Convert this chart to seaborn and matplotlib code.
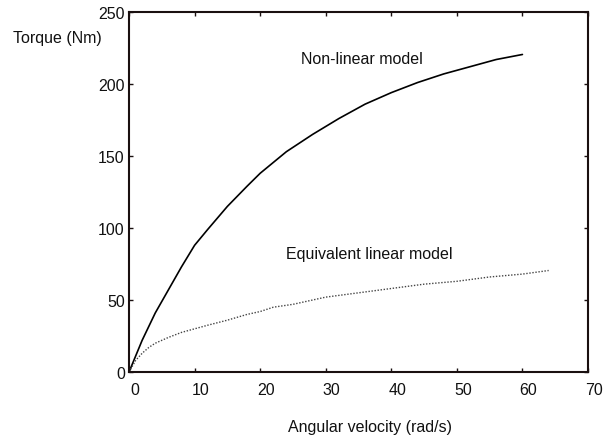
import numpy as np
import pandas as pd
import matplotlib
matplotlib.use('Agg')
import matplotlib.pyplot as plt
import matplotlib.transforms as mtransforms
import seaborn as sns

# 读出的数据 (非线性模型 / 等效线性模型)
nonlin_speed = [0, 2, 4, 6, 8, 10, 12, 15, 18, 20, 24, 28, 32, 36, 40, 44, 48, 52, 56, 60]
nonlin_torque = [0, 22, 41, 57, 73, 88, 99, 115, 129, 138, 153, 165, 176, 186, 194, 201, 207, 212, 217, 220.5]

lin_speed = [0, 1, 2, 3, 4, 6, 8, 10, 12, 15, 18, 20, 22, 25, 30, 35, 40, 45, 50, 55, 60, 64]
lin_torque = [0, 8, 13, 17, 20, 24, 27.5, 30, 32.5, 36, 40, 42, 45, 47, 52, 55, 58, 61, 63, 66, 68, 70.5]

x_ticks = [0, 10, 20, 30, 40, 50, 60, 70]
y_ticks = [0, 50, 100, 150, 200, 250]

nonlin = pd.DataFrame({'w': nonlin_speed, 'T': nonlin_torque})
lin = pd.DataFrame({'w': lin_speed, 'T': lin_torque})

sns.set_style('ticks')
plt.rcParams['font.family'] = ['Liberation Sans', 'DejaVu Sans']
fs = 11.5

ink = '#1a1010'
fig = plt.figure(figsize=(6.08, 4.39), dpi=100)
ax = fig.add_axes([0.2122, 0.1503, 0.7549, 0.8201])

sns.lineplot(data=nonlin, x='w', y='T', ax=ax, color='black', linewidth=1.2)
sns.lineplot(data=lin, x='w', y='T', ax=ax, color='#444444', linewidth=1.0,
             linestyle=(0, (1, 1.2)))

ax.set_xlim(0, 70)
ax.set_ylim(0, 250)
ax.set_xticks(x_ticks)
ax.set_yticks(y_ticks)
ax.set_xlabel('')
ax.set_ylabel('')

for s in ax.spines.values():
    s.set_linewidth(1.5)
    s.set_color(ink)
ax.tick_params(direction='in', length=3, width=1, color=ink, labelcolor='#111111',
               top=True, right=True, labelsize=fs)
ax.tick_params(axis='x', pad=7)
ax.tick_params(axis='y', pad=3)

# 刻度标签略微右移 (原图如此)
shift = mtransforms.ScaledTranslation(6 / 100, 0, fig.dpi_scale_trans)
for lbl in ax.get_xticklabels():
    lbl.set_transform(lbl.get_transform() + shift)

ax.text(26.3, 218, 'Non-linear model', ha='left', va='center', fontsize=fs, color='#111111')
ax.text(24.0, 82, 'Equivalent linear model', ha='left', va='center', fontsize=fs, color='#111111')

fig.text(13 / 608, 1 - 39 / 439, 'Torque (Nm)', ha='left', va='center', fontsize=fs, color='#111111')
fig.text(370 / 608, 1 - 428 / 439, 'Angular velocity (rad/s)', ha='center', va='center',
         fontsize=fs, color='#111111')

fig.savefig('out.png', dpi=100)
